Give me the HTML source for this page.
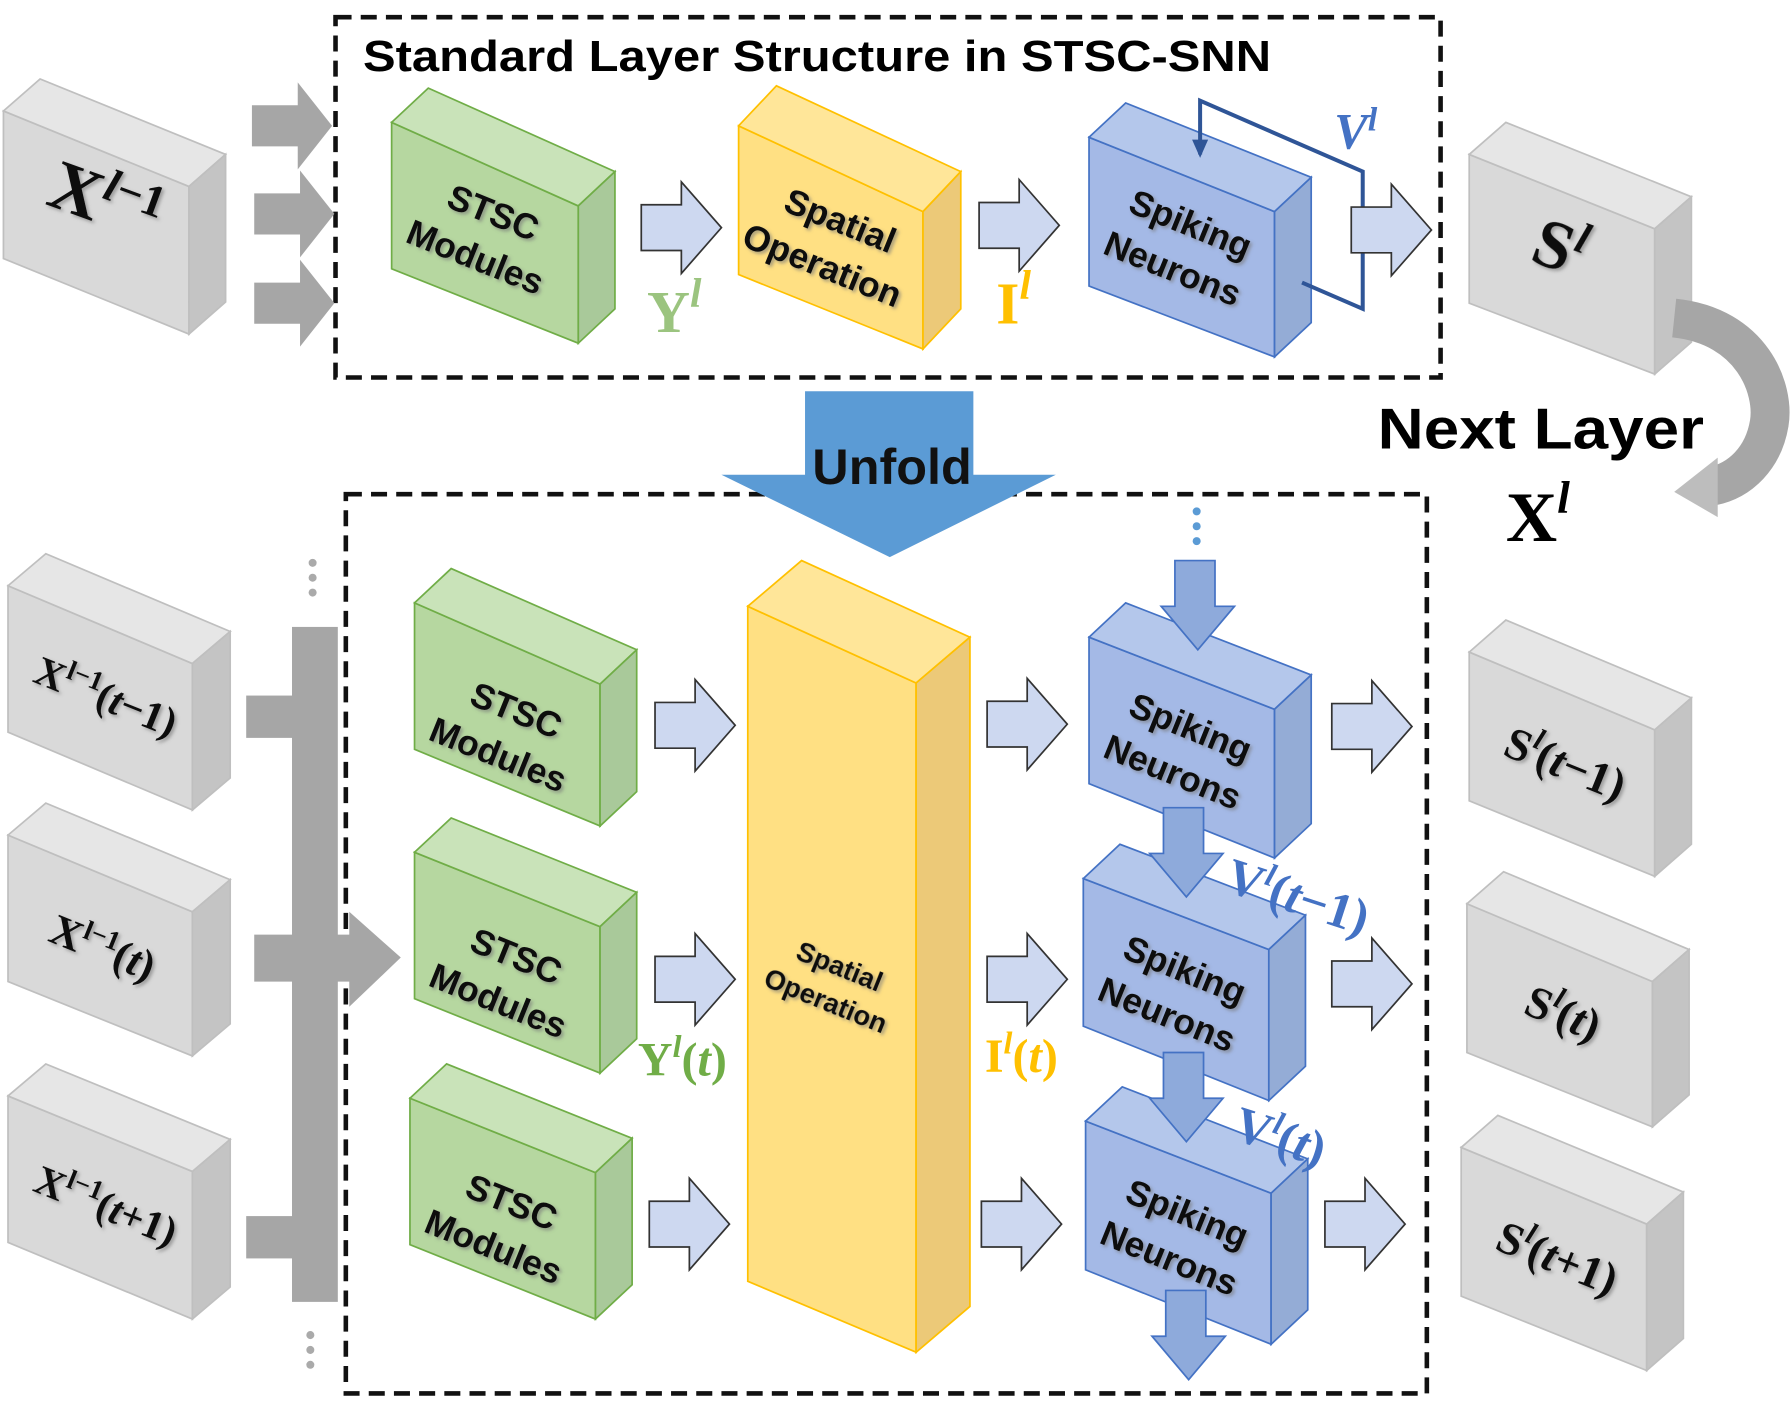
<!DOCTYPE html>
<html><head><meta charset="utf-8"><style>
html,body{margin:0;padding:0;background:#fff;}
svg{display:block;}
.b{font-family:"Liberation Sans",sans-serif;font-weight:bold;}
.s{font-family:"Liberation Serif",serif;font-weight:bold;}
</style></head><body>
<svg width="1791" height="1414" viewBox="0 0 1564 1236" preserveAspectRatio="none" xmlns="http://www.w3.org/2000/svg">
<defs>
<path id="ba" d="M0,-20 H35 V-40 L70,0 L35,40 V20 H0Z" fill="#cdd8f0" stroke="#333" stroke-width="1.5"/>
<path id="ga" d="M0,-18 H40 V-38 L70,0 L40,38 V18 H0Z" fill="#a6a6a6"/>
<path id="va" d="M-20,0 H15 V40 L32,40 L0,78 L-32,40 H-20Z" fill="#8eaadb" stroke="#4472c4" stroke-width="1.5"/>
<filter id="sh"><feDropShadow dx="2" dy="2" stdDeviation="1.5" flood-color="#777" flood-opacity="0.6"/></filter>
</defs>

<rect x="293" y="15" width="965" height="315" fill="none" stroke="#111" stroke-width="4" stroke-dasharray="14,8"/>
<rect x="302" y="432" width="944" height="786" fill="none" stroke="#111" stroke-width="4" stroke-dasharray="14,8"/>
<text x="317" y="62" class="b" font-size="38" textLength="793" lengthAdjust="spacingAndGlyphs">Standard Layer Structure in STSC-SNN</text>

<g stroke="#bfbfbf" stroke-width="1.5">
<polygon points="3,97 165,163 165,292 3,226" fill="#d9d9d9"/><polygon points="3,97 35,69 197,135 165,163" fill="#e6e6e6"/><polygon points="165,163 197,135 197,264 165,292" fill="#c4c4c4"/>
<polygon points="1283,135 1445,200 1445,327 1283,265" fill="#d9d9d9"/><polygon points="1283,135 1315,107 1477,172 1445,200" fill="#e6e6e6"/><polygon points="1445,200 1477,172 1477,299 1445,327" fill="#c4c4c4"/>
<polygon points="7,512 168,580 168,708 7,640" fill="#d9d9d9"/><polygon points="7,512 40,484 201,552 168,580" fill="#e6e6e6"/><polygon points="168,580 201,552 201,680 168,708" fill="#c4c4c4"/>
<polygon points="7,730 168,797 168,923 7,858" fill="#d9d9d9"/><polygon points="7,730 40,702 201,769 168,797" fill="#e6e6e6"/><polygon points="168,797 201,769 201,895 168,923" fill="#c4c4c4"/>
<polygon points="7,958 168,1024 168,1153 7,1086" fill="#d9d9d9"/><polygon points="7,958 40,930 201,996 168,1024" fill="#e6e6e6"/><polygon points="168,1024 201,996 201,1125 168,1153" fill="#c4c4c4"/>
<polygon points="1283,570 1445,638 1445,766 1283,700" fill="#d9d9d9"/><polygon points="1283,570 1315,542 1477,610 1445,638" fill="#e6e6e6"/><polygon points="1445,638 1477,610 1477,738 1445,766" fill="#c4c4c4"/>
<polygon points="1281,790 1443,858 1443,985 1281,920" fill="#d9d9d9"/><polygon points="1281,790 1313,762 1475,830 1443,858" fill="#e6e6e6"/><polygon points="1443,858 1475,830 1475,957 1443,985" fill="#c4c4c4"/>
<polygon points="1276,1003 1438,1070 1438,1198 1276,1133" fill="#d9d9d9"/><polygon points="1276,1003 1308,975 1470,1042 1438,1070" fill="#e6e6e6"/><polygon points="1438,1070 1470,1042 1470,1170 1438,1198" fill="#c4c4c4"/>
</g>
<g stroke="#70ad47" stroke-width="1.5">
<polygon points="342,107 505,180 505,300 342,235" fill="#b6d7a0"/><polygon points="342,107 374,77 537,150 505,180" fill="#c9e3b9"/><polygon points="505,180 537,150 537,270 505,300" fill="#a9c99a"/>
<polygon points="362,527 524,598 524,722 362,655" fill="#b6d7a0"/><polygon points="362,527 394,497 556,568 524,598" fill="#c9e3b9"/><polygon points="524,598 556,568 556,692 524,722" fill="#a9c99a"/>
<polygon points="362,745 524,810 524,938 362,873" fill="#b6d7a0"/><polygon points="362,745 394,715 556,780 524,810" fill="#c9e3b9"/><polygon points="524,810 556,780 556,908 524,938" fill="#a9c99a"/>
<polygon points="358,960 520,1025 520,1153 358,1088" fill="#b6d7a0"/><polygon points="358,960 390,930 552,995 520,1025" fill="#c9e3b9"/><polygon points="520,1025 552,995 552,1123 520,1153" fill="#a9c99a"/>
</g>
<g stroke="#ffc000" stroke-width="1.5">
<polygon points="645,110 806,185 806,305 645,240" fill="#ffe083"/><polygon points="645,110 678,75 839,150 806,185" fill="#ffe699"/><polygon points="806,185 839,150 839,270 806,305" fill="#ecc978"/>
<polygon points="653,530 800,597 800,1182 653,1120" fill="#ffe083"/><polygon points="653,530 700,490 847,557 800,597" fill="#ffe699"/><polygon points="800,597 847,557 847,1142 800,1182" fill="#ecc978"/>
</g>
<g stroke="#4472c4" stroke-width="1.5">
<polygon points="951,120 1113,185 1113,312 951,250" fill="#a4b9e6"/><polygon points="951,120 983,90 1145,155 1113,185" fill="#b4c7eb"/><polygon points="1113,185 1145,155 1145,282 1113,312" fill="#94acd6"/>
<polygon points="951,557 1113,620 1113,750 951,685" fill="#a4b9e6"/><polygon points="951,557 983,527 1145,590 1113,620" fill="#b4c7eb"/><polygon points="1113,620 1145,590 1145,720 1113,750" fill="#94acd6"/>
<polygon points="946,768 1108,830 1108,962 946,897" fill="#a4b9e6"/><polygon points="946,768 978,738 1140,800 1108,830" fill="#b4c7eb"/><polygon points="1108,830 1140,800 1140,932 1108,962" fill="#94acd6"/>
<polygon points="948,980 1110,1043 1110,1175 948,1110" fill="#a4b9e6"/><polygon points="948,980 980,950 1142,1013 1110,1043" fill="#b4c7eb"/><polygon points="1110,1043 1142,1013 1142,1145 1110,1175" fill="#94acd6"/>
</g>

<polyline points="1048,135 1048,88 1190,150 1190,270 1137,247" fill="none" stroke="#2f5597" stroke-width="3.5"/>
<polygon points="1041,122 1055,122 1048,138" fill="#2f5597"/>

<use href="#ba" x="560" y="199"/><use href="#ba" x="855" y="197"/><use href="#ba" x="1180" y="201"/>
<use href="#ba" x="572" y="634"/><use href="#ba" x="862" y="633"/><use href="#ba" x="1163" y="635"/>
<use href="#ba" x="572" y="856"/><use href="#ba" x="862" y="856"/><use href="#ba" x="1163" y="860"/>
<use href="#ba" x="567" y="1070"/><use href="#ba" x="857" y="1070"/><use href="#ba" x="1157" y="1070"/>

<use href="#ga" x="220" y="110"/><use href="#ga" x="222" y="187"/><use href="#ga" x="222" y="265"/>
<rect x="255" y="548" width="40" height="590" fill="#a6a6a6"/>
<rect x="215" y="608" width="42" height="37" fill="#a6a6a6"/>
<rect x="215" y="1063" width="42" height="37" fill="#a6a6a6"/>
<path d="M222,817 H305 V797 L350,837 L305,880 V858 H222Z" fill="#a6a6a6"/>
<g fill="#aaa"><circle cx="273" cy="492" r="3.5"/><circle cx="273" cy="505" r="3.5"/><circle cx="273" cy="518" r="3.5"/>
<circle cx="271" cy="1167" r="3.5"/><circle cx="271" cy="1180" r="3.5"/><circle cx="271" cy="1193" r="3.5"/></g>

<g fill="#5b9bd5"><circle cx="1045" cy="447" r="3.5"/><circle cx="1045" cy="460" r="3.5"/><circle cx="1045" cy="473" r="3.5"/></g>
<use href="#va" x="1046" y="490"/>
<use href="#va" x="1036" y="706"/>
<use href="#va" x="1036" y="920"/>
<use href="#va" x="1038" y="1128"/>

<path d="M703,342 H850 V415 H922 L777,487 L630,415 H703Z" fill="#5b9bd5"/>
<text x="779" y="423" class="b" font-size="44" text-anchor="middle" fill="#111">Unfold</text>

<path d="M1462,278 C1530,285 1550,340 1545,370 C1540,400 1520,420 1495,425" fill="none" stroke="#a6a6a6" stroke-width="34"/>
<polygon points="1500,400 1500,452 1462,430" fill="#bdbdbd"/>
<text x="1203" y="392" class="b" font-size="50" textLength="285" lengthAdjust="spacingAndGlyphs">Next Layer</text>
<text x="1315" y="473" class="s" font-size="62">X<tspan font-style="italic" font-size="40" dy="-25">l</tspan></text>

<g class="b" font-size="31" text-anchor="middle" fill="#111" filter="url(#sh)">
<g transform="translate(423,205) rotate(22)"><text y="-10">STSC</text><text y="32">Modules</text></g>
<g transform="translate(726,212) rotate(22)"><text y="-10">Spatial</text><text y="32">Operation</text></g>
<g transform="translate(1032,215) rotate(22)"><text y="-10">Spiking</text><text y="32">Neurons</text></g>
<g transform="translate(443,640) rotate(22)"><text y="-10">STSC</text><text y="32">Modules</text></g>
<g transform="translate(443,855) rotate(22)"><text y="-10">STSC</text><text y="32">Modules</text></g>
<g transform="translate(439,1070) rotate(22)"><text y="-10">STSC</text><text y="32">Modules</text></g>
<g transform="translate(1032,655) rotate(22)"><text y="-10">Spiking</text><text y="32">Neurons</text></g>
<g transform="translate(1027,867) rotate(22)"><text y="-10">Spiking</text><text y="32">Neurons</text></g>
<g transform="translate(1029,1080) rotate(22)"><text y="-10">Spiking</text><text y="32">Neurons</text></g>
<g transform="translate(727,860) rotate(22)" font-size="24"><text y="-8">Spatial</text><text y="24">Operation</text></g>
</g>
<g class="s" fill="#111" filter="url(#sh)">
<g transform="translate(85,195) rotate(20)"><text font-size="62" text-anchor="middle">X<tspan font-style="italic" font-size="40" dy="-22">l</tspan><tspan font-size="40" dy="0">−1</tspan></text></g>
<g transform="translate(1355,235) rotate(20)"><text font-size="60" text-anchor="middle">S<tspan font-style="italic" font-size="38" dy="-22">l</tspan></text></g>
<g transform="translate(88,620) rotate(22)" font-size="36" text-anchor="middle"><text>X<tspan font-size="24" dy="-14">l−1</tspan><tspan dy="14">(</tspan><tspan font-style="italic">t</tspan>−1)</text></g>
<g transform="translate(85,840) rotate(22)" font-size="38" text-anchor="middle"><text>X<tspan font-size="24" dy="-14">l−1</tspan><tspan dy="14">(</tspan><tspan font-style="italic">t</tspan>)</text></g>
<g transform="translate(88,1065) rotate(22)" font-size="36" text-anchor="middle"><text>X<tspan font-size="24" dy="-14">l−1</tspan><tspan dy="14">(</tspan><tspan font-style="italic">t</tspan>+1)</text></g>
<g transform="translate(1362,680) rotate(22)" font-size="40" text-anchor="middle"><text>S<tspan font-style="italic" font-size="26" dy="-16">l</tspan><tspan dy="16">(</tspan><tspan font-style="italic">t</tspan>−1)</text></g>
<g transform="translate(1360,898) rotate(22)" font-size="40" text-anchor="middle"><text>S<tspan font-style="italic" font-size="26" dy="-16">l</tspan><tspan dy="16">(</tspan><tspan font-style="italic">t</tspan>)</text></g>
<g transform="translate(1355,1112) rotate(22)" font-size="40" text-anchor="middle"><text>S<tspan font-style="italic" font-size="26" dy="-16">l</tspan><tspan dy="16">(</tspan><tspan font-style="italic">t</tspan>+1)</text></g>
</g>

<g class="s">
<text x="565" y="290" font-size="52" fill="#9bc47f">Y<tspan font-style="italic" font-size="36" dy="-22">l</tspan></text>
<text x="870" y="283" font-size="52" fill="#ffc000">I<tspan font-style="italic" font-size="36" dy="-22">l</tspan></text>
<text x="1165" y="130" font-size="44" fill="#4472c4" font-style="italic">V<tspan font-size="30" dy="-16">l</tspan></text>
<text x="557" y="940" font-size="42" fill="#70ad47">Y<tspan font-style="italic" font-size="28" dy="-16">l</tspan><tspan dy="16">(</tspan><tspan font-style="italic">t</tspan>)</text>
<text x="860" y="937" font-size="42" fill="#ffc000">I<tspan font-style="italic" font-size="28" dy="-16">l</tspan><tspan dy="16">(</tspan><tspan font-style="italic">t</tspan>)</text>
<g transform="translate(1068,778) rotate(18)"><text font-size="44" fill="#4472c4">V<tspan font-style="italic" font-size="28" dy="-16">l</tspan><tspan dy="16">(</tspan><tspan font-style="italic">t</tspan>−1)</text></g>
<g transform="translate(1075,995) rotate(18)"><text font-size="44" fill="#4472c4">V<tspan font-style="italic" font-size="28" dy="-16">l</tspan><tspan dy="16">(</tspan><tspan font-style="italic">t</tspan>)</text></g>
</g>
</svg>
</body></html>
